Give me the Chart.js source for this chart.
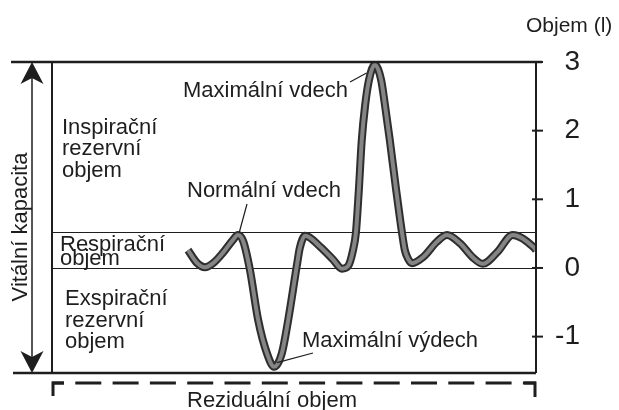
<!DOCTYPE html>
<html lang="cs">
<head>
<meta charset="utf-8">
<title>Spirometrie</title>
<script src="https://cdn.jsdelivr.net/npm/chart.js@4/dist/chart.umd.min.js"></script>
<style>
  html, body { margin: 0; padding: 0; background: #fff; }
  canvas { display: block; }
</style>
</head>
<body>
<canvas id="spirogram" width="619" height="410"></canvas>
<script>
// Záznam dechu (čas v libovolných jednotkách, objem v litrech)
const cas = [28.1, 30.0, 31.6, 33.3, 35.3, 37.4, 38.4, 39.5, 40.9, 42.6,
             44.4, 45.9, 47.5, 48.8, 50.6, 51.2, 52.3, 55.4, 58.1, 59.9,
             61.2, 62.2, 62.8, 63.4, 64.0, 64.7, 65.5, 66.7, 68.0, 68.8,
             69.8, 71.1, 72.3, 72.9, 73.6, 74.4, 76.7, 79.5, 81.6, 84.3,
             87.0, 89.0, 92.0, 95.2, 99.4, 100];
const objem = [0.26, 0.07, 0.01, 0.07, 0.22, 0.41, 0.48, 0.39, -0.03, -0.76,
               -1.24, -1.44, -1.24, -0.76, 0.04, 0.29, 0.47, 0.31, 0.12, -0.01,
               0.03, 0.26, 0.52, 1.14, 1.86, 2.37, 2.74, 2.96, 2.74, 2.37,
               1.86, 1.14, 0.52, 0.26, 0.13, 0.07, 0.16, 0.38, 0.48, 0.36,
               0.15, 0.06, 0.23, 0.48, 0.31, 0.26];
// Hranice respiračního objemu
const hladiny = [0, 0.53];
// Dílky osy Y
const dilkyY = [-1, 0, 1, 2, 3];

const pismo = '"Liberation Sans", Arial, Helvetica, sans-serif';
const barva = '#1e1e1e';
const body = cas.map((t, i) => ({ x: t, y: objem[i] }));

function text(ctx, s, x, y) {
    ctx.fillText(s, x, y);
}

function sipka(ctx, x, yHrot, smer) {
    // smer = 1 dolů, -1 nahoru
    ctx.beginPath();
    ctx.moveTo(x, yHrot);
    ctx.lineTo(x - 11.5, yHrot - smer * 22);
    ctx.lineTo(x, yHrot - smer * 16);
    ctx.lineTo(x + 11.5, yHrot - smer * 22);
    ctx.closePath();
    ctx.fill();
}

// Rámeček, vodorovné hranice a dílky
const pozadi = {
    id: 'pozadi',
    beforeDatasetsDraw(chart) {
        const { ctx, chartArea: a, scales: { y } } = chart;
        ctx.save();
        ctx.strokeStyle = barva;
        ctx.lineWidth = 1.2;
        hladiny.forEach(h => {
            const py = Math.round(y.getPixelForValue(h)) + 0.5;
            ctx.beginPath();
            ctx.moveTo(a.left, py);
            ctx.lineTo(a.right, py);
            ctx.stroke();
        });
        ctx.restore();
    },
    afterDatasetsDraw(chart) {
        const { ctx, chartArea: a, scales: { y } } = chart;
        ctx.save();
        ctx.strokeStyle = barva;
        ctx.fillStyle = barva;
        ctx.lineWidth = 2.5;
        ctx.beginPath();
        ctx.moveTo(11, a.top); ctx.lineTo(a.right + 6, a.top);
        ctx.moveTo(13, a.bottom); ctx.lineTo(a.right, a.bottom);
        ctx.stroke();
        ctx.lineWidth = 2;
        ctx.beginPath();
        ctx.moveTo(a.left, a.top); ctx.lineTo(a.left, a.bottom);
        ctx.moveTo(a.right, a.top); ctx.lineTo(a.right, a.bottom);
        ctx.stroke();
        // dílky přes osu
        y.ticks.forEach(t => {
            const py = y.getPixelForValue(t.value);
            ctx.beginPath();
            ctx.moveTo(a.right - 4, py);
            ctx.lineTo(a.right + 7, py);
            ctx.stroke();
        });

        // vitální kapacita
        const xs = 32;
        ctx.lineWidth = 1.5;
        ctx.beginPath();
        ctx.moveTo(xs, a.top + 10); ctx.lineTo(xs, a.bottom - 10);
        ctx.stroke();
        sipka(ctx, xs, a.top, -1);
        sipka(ctx, xs, a.bottom, 1);

        // reziduální objem
        ctx.lineWidth = 3;
        ctx.setLineDash([26, 11.3]);
        ctx.lineDashOffset = 14;
        ctx.beginPath();
        ctx.moveTo(a.left, 383); ctx.lineTo(a.right, 383);
        ctx.stroke();
        ctx.setLineDash([]);
        ctx.beginPath();
        ctx.moveTo(a.left + 1, 396); ctx.lineTo(a.left + 1, 383); ctx.lineTo(a.left + 12, 383);
        ctx.moveTo(a.right - 12, 383); ctx.lineTo(a.right - 1, 383); ctx.lineTo(a.right - 1, 397);
        ctx.stroke();

        // odkazové čáry
        const px = v => chart.scales.x.getPixelForValue(v);
        const py = v => y.getPixelForValue(v);
        ctx.lineWidth = 1.2;
        ctx.beginPath();
        ctx.moveTo(350, 82); ctx.lineTo(px(65.0), py(2.84));
        ctx.moveTo(247, 204); ctx.lineTo(px(38.7), py(0.52));
        ctx.moveTo(313, 353); ctx.lineTo(px(46.5), py(-1.38));
        ctx.stroke();

        // popisky
        ctx.font = '22px ' + pismo;
        ctx.textBaseline = 'alphabetic';
        ctx.textAlign = 'left';
        text(ctx, 'Inspirační', 62, 134);
        text(ctx, 'rezervní', 62, 155);
        text(ctx, 'objem', 62, 177);
        text(ctx, 'Respirační', 60, 251);
        text(ctx, 'objem', 60, 265);
        text(ctx, 'Exspirační', 65, 305);
        text(ctx, 'rezervní', 65, 327);
        text(ctx, 'objem', 65, 348);
        text(ctx, 'Maximální vdech', 183, 97);
        text(ctx, 'Normální vdech', 187, 197);
        text(ctx, 'Maximální výdech', 302, 347);
        text(ctx, 'Reziduální objem', 187, 407);
        ctx.font = '21px ' + pismo;
        text(ctx, 'Objem (l)', 526, 32);

        ctx.font = '22px ' + pismo;
        ctx.translate(27, 227);
        ctx.rotate(-Math.PI / 2);
        ctx.textAlign = 'center';
        text(ctx, 'Vitální kapacita', 0, 0);
        ctx.restore();
    }
};

const ctx = document.getElementById('spirogram').getContext('2d');
const graf = new Chart(ctx, {
    type: 'line',
    data: {
        datasets: [
            { data: body, borderColor: '#858585', borderWidth: 4, pointRadius: 0, cubicInterpolationMode: 'monotone' },
            { data: body, borderColor: '#2e2e2e', borderWidth: 8, pointRadius: 0, cubicInterpolationMode: 'monotone' }
        ]
    },
    options: {
        responsive: false,
        animation: false,
        layout: { padding: { left: 52, top: 62, bottom: 37, right: 39 } },
        plugins: { legend: { display: false }, tooltip: { enabled: false } },
        scales: {
            x: { type: 'linear', min: 0, max: 100, display: false },
            y: {
                position: 'right',
                min: -1.53,
                max: 3,
                afterFit: s => { s.width = 44; },
                afterBuildTicks: s => { s.ticks = dilkyY.map(v => ({ value: v })); },
                grid: { display: false, drawTicks: false },
                border: { display: false },
                ticks: {
                    font: { size: 28, family: pismo },
                    color: barva,
                    crossAlign: 'far',
                    padding: 18
                }
            }
        }
    },
    plugins: [pozadi]
});
</script>
</body>
</html>
